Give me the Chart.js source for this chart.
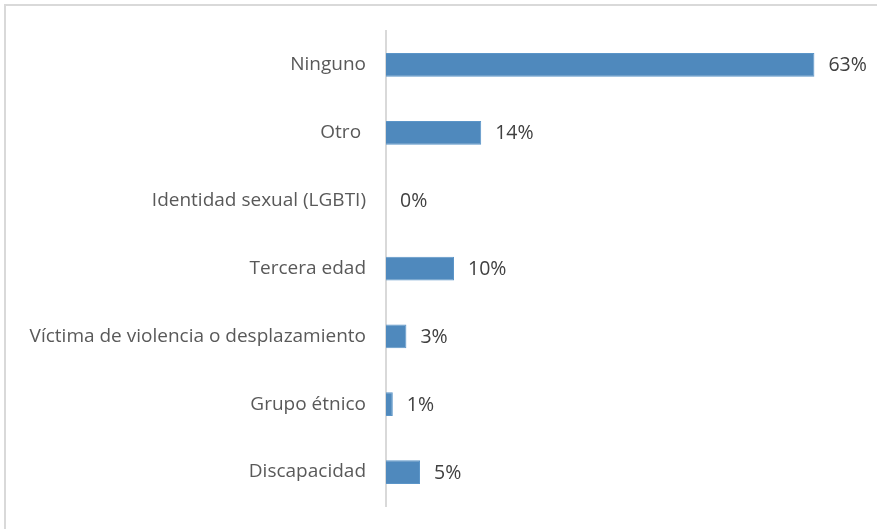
<!DOCTYPE html>
<html>
<head>
<meta charset="utf-8">
<script src="https://cdn.jsdelivr.net/npm/chart.js@4.4.1/dist/chart.umd.min.js"></script>
<style>
  html, body { margin: 0; padding: 0; background: #fff; overflow: hidden; }
  #frame { position: absolute; left: 4px; top: 4px; width: 900px; height: 560px;
           border-left: 2px solid #d9d9d9; border-top: 2px solid #d9d9d9; }
  #wrap { position: absolute; left: 0; top: 0; width: 877px; height: 529px; }
</style>
</head>
<body>
<div id="frame"></div>
<div id="wrap"><canvas id="barChart" width="877" height="529"></canvas></div>
<script>
// chart data
var categories = ['Ninguno', 'Otro ', 'Identidad sexual (LGBTI)', 'Tercera edad',
                  'Víctima de violencia o desplazamiento', 'Grupo étnico', 'Discapacidad'];
var values = [63, 14, 0, 10, 3, 1, 5];

var barColor = '#4f89bd';

// draws the "63%" style labels at the end of each bar
var valueLabels = {
    id: 'valueLabels',
    afterDatasetsDraw: function (chart) {
        var ctx = chart.ctx;
        var meta = chart.getDatasetMeta(0);
        ctx.save();
        ctx.font = '19.5px "Open Sans", sans-serif';
        ctx.fillStyle = '#404040';
        ctx.textAlign = 'left';
        ctx.textBaseline = 'middle';
        meta.data.forEach(function (bar, i) {
            ctx.fillText(values[i] + '%', bar.x + 14, bar.y + 1);
        });
        ctx.restore();
    }
};

var chart = new Chart(document.getElementById('barChart').getContext('2d'), {
    type: 'bar',
    data: {
        labels: categories,
        datasets: [{
            data: values,
            backgroundColor: barColor,
            borderColor: '#5b95c8',
            borderWidth: 1,
            barPercentage: 0.35,
            categoryPercentage: 1
        }]
    },
    options: {
        indexAxis: 'y',
        responsive: false,
        animation: false,
        layout: { padding: { top: 31, bottom: 23, right: 15, left: 0 } },
        plugins: { legend: { display: false }, tooltip: { enabled: false } },
        scales: {
            x: { display: false, min: 0, max: 70 },
            y: {
                grid: { display: false, drawTicks: false },
                border: { display: true, color: '#d9d9d9', width: 2 },
                ticks: { color: '#595959', padding: 20,
                         font: { family: '"Open Sans", sans-serif', size: 19 } },
                afterFit: function (scale) {
                    scale.width = 386;
                    scale.paddingTop = 0;
                    scale.paddingBottom = 0;
                }
            }
        }
    },
    plugins: [valueLabels]
});
</script>
</body>
</html>
